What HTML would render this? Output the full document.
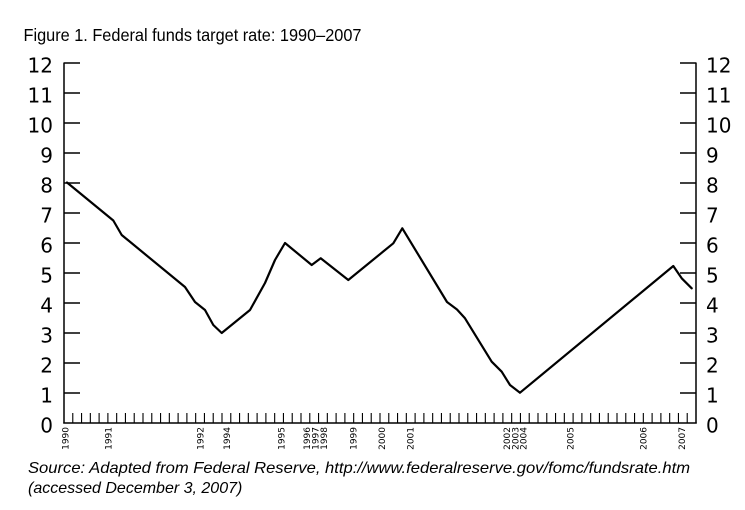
<!DOCTYPE html>
<html><head><meta charset="utf-8"><style>
html,body{margin:0;padding:0;background:#fff;}
svg{display:block;}
</style></head><body>
<svg width="745" height="510" viewBox="0 0 745 510" xmlns="http://www.w3.org/2000/svg">
<rect width="745" height="510" fill="#fff"/>
<text x="23.5" y="41" font-family="Liberation Sans, Arial, sans-serif" font-size="17.5" textLength="338" lengthAdjust="spacingAndGlyphs" fill="#000">Figure 1. Federal funds target rate: 1990–2007</text>

<g stroke="#000" stroke-width="1.5" fill="none">
<line x1="64" y1="62.5" x2="64" y2="423.5"/>
<line x1="696" y1="62.5" x2="696" y2="423.5"/>
<line x1="63.3" y1="423" x2="696.7" y2="423"/>
<path d="M64 63H80M64 93H80M64 123H80M64 153H80M64 183H80M64 213H80M64 243H80M64 273H80M64 303H80M64 333H80M64 363H80M64 393H80"/>
<path d="M680 63H696M680 93H696M680 123H696M680 153H696M680 183H696M680 213H696M680 243H696M680 273H696M680 303H696M680 333H696M680 363H696M680 393H696"/>
</g>
<path stroke="#000" stroke-width="1.1" fill="none" d="M72.78 413V423M81.56 413V423M90.33 413V423M99.11 413V423M107.89 413V423M116.67 413V423M125.44 413V423M134.22 413V423M143 413V423M151.78 413V423M160.56 413V423M169.33 413V423M178.11 413V423M186.89 413V423M195.67 413V423M204.44 413V423M213.22 413V423M222 413V423M230.78 413V423M239.56 413V423M248.33 413V423M257.11 413V423M265.89 413V423M274.67 413V423M283.44 413V423M292.22 413V423M301 413V423M309.78 413V423M318.56 413V423M327.33 413V423M336.11 413V423M344.89 413V423M353.67 413V423M362.44 413V423M371.22 413V423M380 413V423M388.78 413V423M397.56 413V423M406.33 413V423M415.11 413V423M423.89 413V423M432.67 413V423M441.44 413V423M450.22 413V423M459 413V423M467.78 413V423M476.56 413V423M485.33 413V423M494.11 413V423M502.89 413V423M511.67 413V423M520.44 413V423M529.22 413V423M538 413V423M546.78 413V423M555.56 413V423M564.33 413V423M573.11 413V423M581.89 413V423M590.67 413V423M599.44 413V423M608.22 413V423M617 413V423M625.78 413V423M634.56 413V423M643.33 413V423M652.11 413V423M660.89 413V423M669.67 413V423M678.44 413V423M687.22 413V423"/>

<g font-family="DejaVu Sans, Verdana, sans-serif" font-size="20" fill="#000" text-anchor="end">
<text x="53" y="72.5">12</text><text x="53" y="102.5">11</text><text x="53" y="132.5">10</text><text x="53" y="162.5">9</text><text x="53" y="192.5">8</text><text x="53" y="222.5">7</text><text x="53" y="252.5">6</text><text x="53" y="282.5">5</text><text x="53" y="312.5">4</text><text x="53" y="342.5">3</text><text x="53" y="372.5">2</text><text x="53" y="402.5">1</text><text x="53" y="432.5">0</text>
</g>
<g font-family="DejaVu Sans, Verdana, sans-serif" font-size="20" fill="#000" text-anchor="start">
<text x="706" y="72.5">12</text><text x="706" y="102.5">11</text><text x="706" y="132.5">10</text><text x="706" y="162.5">9</text><text x="706" y="192.5">8</text><text x="706" y="222.5">7</text><text x="706" y="252.5">6</text><text x="706" y="282.5">5</text><text x="706" y="312.5">4</text><text x="706" y="342.5">3</text><text x="706" y="372.5">2</text><text x="706" y="402.5">1</text><text x="706" y="432.5">0</text>
</g>

<g font-family="DejaVu Sans, Verdana, sans-serif" font-size="9" fill="#000" text-anchor="end">
<text transform="translate(68.3,427) rotate(-90)">1990</text>
<text transform="translate(111.6,427) rotate(-90)">1991</text>
<text transform="translate(203.3,427) rotate(-90)">1992</text>
<text transform="translate(230,427) rotate(-90)">1994</text>
<text transform="translate(284.3,427) rotate(-90)">1995</text>
<text transform="translate(309.8,427) rotate(-90)">1996</text>
<text transform="translate(318.3,427) rotate(-90)">1997</text>
<text transform="translate(326.8,427) rotate(-90)">1998</text>
<text transform="translate(356.6,427) rotate(-90)">1999</text>
<text transform="translate(385,427) rotate(-90)">2000</text>
<text transform="translate(413.3,427) rotate(-90)">2001</text>
<text transform="translate(510,427) rotate(-90)">2002</text>
<text transform="translate(518.3,427) rotate(-90)">2003</text>
<text transform="translate(526.6,427) rotate(-90)">2004</text>
<text transform="translate(573.3,427) rotate(-90)">2005</text>
<text transform="translate(646.6,427) rotate(-90)">2006</text>
<text transform="translate(685,427) rotate(-90)">2007</text>
</g>

<polyline fill="none" stroke="#000" stroke-width="2.2" stroke-linejoin="round" stroke-linecap="round"
points="67,182.5 113.3,220.5 121.7,235 185,287 195,302 205,310 213.3,325 221.7,333 250,310 265,283 275,260 285,243 311.7,265 320.7,258.3 348.3,280 393.3,243.3 402.3,228.3 447,302 457,309.5 465,318.3 491.7,361.7 501.7,371.7 510,385 520,392.7 673.3,266 681.7,278.3 691.7,288.3"/>

<g font-family="Liberation Sans, Arial, sans-serif" font-size="16" font-style="italic" fill="#000">
<text x="28" y="473" textLength="662" lengthAdjust="spacingAndGlyphs">Source: Adapted from Federal Reserve, http://www.federalreserve.gov/fomc/fundsrate.htm</text>
<text x="28" y="493">(accessed December 3, 2007)</text>
</g>
</svg>
</body></html>
